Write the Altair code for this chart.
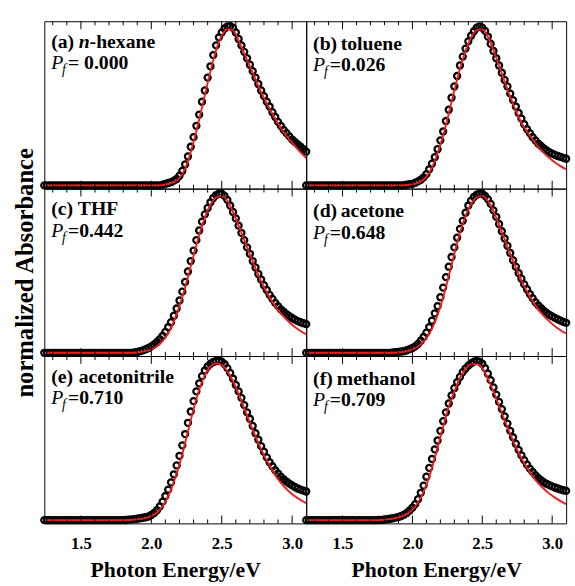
import altair as alt
import numpy as np
import pandas as pd

# Photon-energy grids (eV): measured spectra every 0.02 eV, fitted curves every 0.04 eV
E_DATA = np.round(1.24 + 0.02 * np.arange(94), 2)
E_FIT = np.round(1.26 + 0.04 * np.arange(47), 2)

# Normalized absorbance, measured (open circles) and fitted (red line)
hexane_abs = [
    0.01, 0.01, 0.01, 0.01, 0.01, 0.01, 0.01, 0.01, 0.01, 0.01,
    0.01, 0.01, 0.01, 0.01, 0.01, 0.01, 0.01, 0.01, 0.01, 0.01,
    0.01, 0.01, 0.01, 0.01, 0.01, 0.01, 0.01, 0.01, 0.01, 0.01,
    0.01, 0.01, 0.01, 0.01, 0.01, 0.01, 0.01, 0.01, 0.01, 0.01,
    0.01, 0.01, 0.015, 0.02, 0.025, 0.03, 0.04, 0.05, 0.07, 0.10,
    0.14, 0.19, 0.25, 0.31, 0.38, 0.45, 0.53, 0.60, 0.68, 0.75,
    0.82, 0.88, 0.93, 0.96, 0.985, 0.998, 1.0, 0.99, 0.96, 0.92,
    0.88, 0.84, 0.80, 0.76, 0.72, 0.68, 0.64, 0.60, 0.565, 0.53,
    0.50, 0.465, 0.435, 0.405, 0.38, 0.355, 0.335, 0.315, 0.295, 0.28,
    0.265, 0.25, 0.235, 0.22,
]
hexane_fit = [
    0.01, 0.01, 0.01, 0.01, 0.01, 0.01, 0.01, 0.01, 0.01, 0.01,
    0.01, 0.01, 0.01, 0.01, 0.01, 0.01, 0.01, 0.01, 0.01, 0.01,
    0.01, 0.015, 0.025, 0.04, 0.08, 0.16, 0.28, 0.42, 0.57, 0.72,
    0.85, 0.94, 0.98, 0.975, 0.91, 0.83, 0.75, 0.67, 0.59, 0.52,
    0.455, 0.395, 0.34, 0.295, 0.255, 0.215, 0.18,
]

toluene_abs = [
    0.01, 0.01, 0.01, 0.01, 0.01, 0.01, 0.01, 0.01, 0.01, 0.01,
    0.01, 0.01, 0.01, 0.01, 0.01, 0.01, 0.01, 0.01, 0.01, 0.01,
    0.01, 0.01, 0.01, 0.01, 0.01, 0.01, 0.01, 0.01, 0.01, 0.01,
    0.01, 0.01, 0.01, 0.01, 0.01, 0.012, 0.015, 0.018, 0.02, 0.027,
    0.035, 0.045, 0.06, 0.08, 0.11, 0.145, 0.185, 0.235, 0.29, 0.345,
    0.41, 0.48, 0.555, 0.625, 0.69, 0.755, 0.81, 0.86, 0.905, 0.94,
    0.968, 0.99, 0.998, 0.99, 0.97, 0.935, 0.89, 0.845, 0.80, 0.755,
    0.71, 0.665, 0.625, 0.58, 0.54, 0.50, 0.46, 0.425, 0.39, 0.36,
    0.335, 0.31, 0.29, 0.27, 0.255, 0.24, 0.228, 0.217, 0.208, 0.20,
    0.193, 0.187, 0.181, 0.176,
]
toluene_fit = [
    0.01, 0.01, 0.01, 0.01, 0.01, 0.01, 0.01, 0.01, 0.01, 0.01,
    0.01, 0.01, 0.01, 0.01, 0.01, 0.01, 0.01, 0.01, 0.015, 0.02,
    0.035, 0.065, 0.12, 0.21, 0.32, 0.455, 0.60, 0.735, 0.845, 0.93,
    0.975, 0.98, 0.935, 0.85, 0.755, 0.655, 0.56, 0.475, 0.40, 0.345,
    0.295, 0.25, 0.212, 0.18, 0.153, 0.13, 0.11,
]

thf_abs = [
    0.01, 0.01, 0.01, 0.01, 0.01, 0.01, 0.01, 0.01, 0.01, 0.01,
    0.01, 0.01, 0.01, 0.01, 0.01, 0.01, 0.01, 0.01, 0.01, 0.01,
    0.01, 0.01, 0.01, 0.01, 0.01, 0.01, 0.01, 0.01, 0.01, 0.01,
    0.01, 0.01, 0.012, 0.015, 0.02, 0.025, 0.032, 0.04, 0.05, 0.062,
    0.077, 0.095, 0.115, 0.14, 0.17, 0.20, 0.24, 0.285, 0.335, 0.39,
    0.45, 0.515, 0.58, 0.645, 0.71, 0.77, 0.825, 0.87, 0.91, 0.945,
    0.972, 0.99, 0.999, 0.998, 0.985, 0.96, 0.925, 0.885, 0.845, 0.80,
    0.755, 0.71, 0.665, 0.625, 0.58, 0.54, 0.50, 0.465, 0.43, 0.40,
    0.37, 0.345, 0.32, 0.30, 0.28, 0.265, 0.25, 0.237, 0.226, 0.216,
    0.207, 0.20, 0.194, 0.188,
]
thf_fit = [
    0.01, 0.01, 0.01, 0.01, 0.01, 0.01, 0.01, 0.01, 0.01, 0.01,
    0.01, 0.01, 0.01, 0.01, 0.01, 0.01, 0.012, 0.017, 0.025, 0.04,
    0.065, 0.105, 0.165, 0.25, 0.355, 0.48, 0.615, 0.74, 0.85, 0.93,
    0.975, 0.985, 0.955, 0.885, 0.80, 0.71, 0.62, 0.535, 0.455, 0.385,
    0.325, 0.275, 0.235, 0.20, 0.17, 0.145, 0.125,
]

acetone_abs = [
    0.01, 0.01, 0.01, 0.01, 0.01, 0.01, 0.01, 0.01, 0.01, 0.01,
    0.01, 0.01, 0.01, 0.01, 0.01, 0.01, 0.01, 0.01, 0.01, 0.01,
    0.01, 0.01, 0.01, 0.01, 0.01, 0.01, 0.01, 0.01, 0.01, 0.01,
    0.01, 0.012, 0.014, 0.016, 0.018, 0.02, 0.026, 0.033, 0.04, 0.05,
    0.065, 0.085, 0.108, 0.135, 0.17, 0.21, 0.255, 0.30, 0.355, 0.415,
    0.48, 0.545, 0.605, 0.665, 0.725, 0.78, 0.83, 0.88, 0.925, 0.955,
    0.978, 0.992, 0.999, 0.998, 0.985, 0.965, 0.935, 0.895, 0.855, 0.81,
    0.765, 0.72, 0.675, 0.63, 0.585, 0.545, 0.505, 0.47, 0.435, 0.405,
    0.375, 0.35, 0.325, 0.305, 0.288, 0.272, 0.258, 0.246, 0.236, 0.227,
    0.218, 0.21, 0.202, 0.196,
]
acetone_fit = [
    0.01, 0.01, 0.01, 0.01, 0.01, 0.01, 0.01, 0.01, 0.01, 0.01,
    0.01, 0.01, 0.01, 0.01, 0.01, 0.01, 0.012, 0.016, 0.024, 0.038,
    0.062, 0.10, 0.16, 0.245, 0.355, 0.485, 0.625, 0.755, 0.86, 0.935,
    0.975, 0.985, 0.955, 0.89, 0.805, 0.715, 0.625, 0.54, 0.46, 0.39,
    0.33, 0.28, 0.24, 0.205, 0.175, 0.15, 0.13,
]

acetonitrile_abs = [
    0.01, 0.01, 0.01, 0.01, 0.01, 0.01, 0.01, 0.01, 0.01, 0.01,
    0.01, 0.01, 0.01, 0.01, 0.01, 0.01, 0.01, 0.01, 0.01, 0.01,
    0.01, 0.01, 0.01, 0.01, 0.01, 0.01, 0.01, 0.01, 0.01, 0.011,
    0.013, 0.015, 0.017, 0.02, 0.022, 0.025, 0.028, 0.033, 0.042, 0.055,
    0.072, 0.095, 0.125, 0.16, 0.20, 0.245, 0.295, 0.35, 0.41, 0.475,
    0.545, 0.615, 0.685, 0.75, 0.81, 0.86, 0.905, 0.94, 0.965, 0.982,
    0.993, 0.999, 1.0, 0.995, 0.98, 0.955, 0.925, 0.89, 0.85, 0.81,
    0.77, 0.725, 0.68, 0.64, 0.595, 0.55, 0.51, 0.47, 0.435, 0.40,
    0.37, 0.345, 0.32, 0.30, 0.28, 0.264, 0.25, 0.237, 0.226, 0.216,
    0.207, 0.20, 0.194, 0.188,
]
acetonitrile_fit = [
    0.01, 0.01, 0.01, 0.01, 0.01, 0.01, 0.01, 0.01, 0.01, 0.01,
    0.01, 0.01, 0.01, 0.01, 0.01, 0.012, 0.015, 0.02, 0.028, 0.045,
    0.075, 0.125, 0.20, 0.30, 0.42, 0.56, 0.70, 0.82, 0.91, 0.965,
    0.985, 0.975, 0.935, 0.875, 0.795, 0.705, 0.615, 0.53, 0.45, 0.38,
    0.32, 0.265, 0.222, 0.187, 0.158, 0.135, 0.115,
]

methanol_abs = [
    0.01, 0.01, 0.01, 0.01, 0.01, 0.01, 0.01, 0.01, 0.01, 0.01,
    0.01, 0.01, 0.01, 0.01, 0.01, 0.01, 0.01, 0.01, 0.01, 0.01,
    0.01, 0.01, 0.01, 0.01, 0.01, 0.01, 0.011, 0.012, 0.014, 0.016,
    0.019, 0.022, 0.026, 0.03, 0.036, 0.044, 0.055, 0.07, 0.088, 0.11,
    0.14, 0.18, 0.225, 0.28, 0.335, 0.39, 0.45, 0.505, 0.565, 0.625,
    0.68, 0.735, 0.785, 0.83, 0.868, 0.90, 0.93, 0.952, 0.97, 0.985,
    0.995, 1.0, 0.995, 0.982, 0.955, 0.92, 0.88, 0.835, 0.79, 0.745,
    0.70, 0.655, 0.61, 0.565, 0.525, 0.485, 0.447, 0.413, 0.383, 0.355,
    0.33, 0.31, 0.29, 0.272, 0.258, 0.246, 0.236, 0.228, 0.22, 0.213,
    0.207, 0.201, 0.196, 0.192,
]
methanol_fit = [
    0.01, 0.01, 0.01, 0.01, 0.01, 0.01, 0.01, 0.01, 0.01, 0.01,
    0.01, 0.01, 0.01, 0.012, 0.015, 0.02, 0.028, 0.04, 0.06, 0.095,
    0.15, 0.23, 0.335, 0.46, 0.59, 0.715, 0.81, 0.895, 0.95, 0.978,
    0.98, 0.955, 0.89, 0.81, 0.72, 0.63, 0.545, 0.465, 0.395, 0.335,
    0.285, 0.24, 0.205, 0.175, 0.15, 0.128, 0.11,
]

# Panel captions: tag, solvent name pieces (text, italic, x offset), P_f value text
PANELS = [
    ("(a)", [("n", True, 35), ("-hexane", False, 46)], "= 0.000", hexane_abs, hexane_fit),
    ("(b)", [("toluene", False, 35)], "=0.026", toluene_abs, toluene_fit),
    ("(c)", [("THF", False, 34)], "=0.442", thf_abs, thf_fit),
    ("(d)", [("acetone", False, 35)], "=0.648", acetone_abs, acetone_fit),
    ("(e)", [("acetonitrile", False, 35)], "=0.710", acetonitrile_abs, acetonitrile_fit),
    ("(f)", [("methanol", False, 31)], "=0.709", methanol_abs, methanol_fit),
]

MAJOR_TICKS = [1.5, 2.0, 2.5, 3.0]
MINOR_TICKS = [1.3, 1.4, 1.6, 1.7, 1.8, 1.9, 2.1, 2.2, 2.3, 2.4, 2.6, 2.7, 2.8, 2.9]

SERIF = "Liberation Serif"
RED = "#ee1c1c"
W_LEFT, W_RIGHT, H = 266, 264, 170
X_DOMAIN = [1.24, 3.10]
Y_DOMAIN = [-0.01, 1.03]


def caption(text, x, y, size, weight="bold", style="normal"):
    return alt.Chart(pd.DataFrame({"t": [text]})).mark_text(
        align="left", baseline="alphabetic", font=SERIF, fontSize=size,
        fontWeight=weight, fontStyle=style, color="black",
    ).encode(text="t:N", x=alt.value(x), y=alt.value(y))


def tick_rules(values, y0, y1):
    return alt.Chart(pd.DataFrame({"E": values})).mark_rule(
        color="black", strokeWidth=1
    ).encode(x="E:Q", y=alt.value(y0), y2=alt.value(y1))


def panel(i, width):
    tag, name_parts, pf_text, absorb, fitted = PANELS[i]
    left_col = i % 2 == 0
    y1 = 27 if left_col else 29
    y2 = 49 if left_col else 51

    x_scale = alt.Scale(domain=X_DOMAIN, nice=False, zero=False)
    y_scale = alt.Scale(domain=Y_DOMAIN, nice=False, zero=False)

    if i >= 4:
        x_axis = alt.Axis(
            values=MAJOR_TICKS, format=".1f", ticks=False, tickSize=0, domain=False,
            grid=False, labelFont=SERIF, labelFontSize=17, labelFontWeight="bold",
            labelColor="black", labelPadding=13, labelFlush=False, labelOverlap=False,
            title="Photon Energy/eV", titleFont=SERIF, titleFontSize=22,
            titleFontWeight="bold", titleColor="black", titlePadding=8,
        )
    else:
        x_axis = None

    if i == 2:
        y_axis = alt.Axis(
            title="normalized Absorbance", labels=False, ticks=False, tickSize=0,
            domain=False, grid=False, titleFont=SERIF, titleFontSize=25,
            titleFontWeight="bold", titleColor="black", titlePadding=7,
        )
    else:
        y_axis = None

    measured = pd.DataFrame({"E": E_DATA, "A": absorb})
    fit = pd.DataFrame({"E": E_FIT, "A": fitted})

    # thick-rimmed open circles: neighbouring rims overlap into a dense band
    points = alt.Chart(measured).mark_point(
        shape="circle", filled=False, color="black", size=38, strokeWidth=2.3, opacity=1
    ).encode(
        x=alt.X("E:Q", scale=x_scale, axis=x_axis),
        y=alt.Y("A:Q", scale=y_scale, axis=y_axis),
    )
    line = alt.Chart(fit).mark_line(
        color=RED, strokeWidth=1.9, interpolate="monotone"
    ).encode(x="E:Q", y="A:Q")

    layers = [
        points,
        line,
        tick_rules(MAJOR_TICKS, H, H - 8),
        tick_rules(MINOR_TICKS, H, H - 4),
        tick_rules(MAJOR_TICKS, 0, 8),
        tick_rules(MINOR_TICKS, 0, 4),
        caption(tag, 7, y1, 20),
    ]
    for text, italic, dx in name_parts:
        layers.append(caption(text, dx, y1, 20, style="italic" if italic else "normal"))
    layers += [
        caption("P", 7, y2, 20, weight="normal", style="italic"),
        caption("f", 18, y2 + 5, 14, weight="normal", style="italic"),
        caption(pf_text, 24, y2, 20),
    ]
    return alt.layer(*layers).properties(width=width, height=H)


panels = [panel(i, W_LEFT if i % 2 == 0 else W_RIGHT) for i in range(6)]

chart = alt.concat(
    *panels, columns=2, spacing=0, bounds="flush"
).properties(
    padding={"left": 12, "top": 13, "right": 0, "bottom": 0},
    background="white",
).configure_view(
    stroke="black", strokeWidth=1
)

chart.save("out.html", embed_options={"renderer": "svg", "actions": False})
